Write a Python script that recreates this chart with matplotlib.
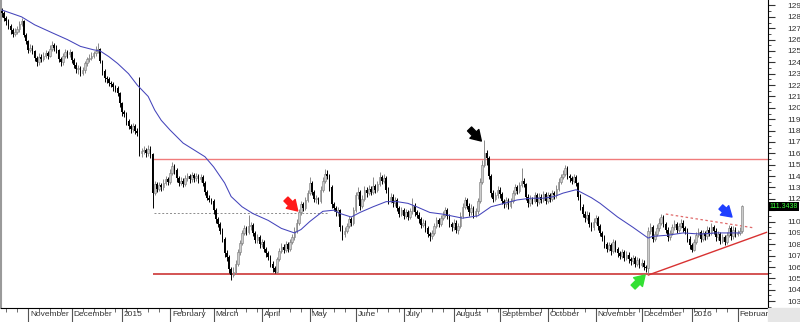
import numpy as np
import pandas as pd
import matplotlib
matplotlib.use('Agg')
import matplotlib.pyplot as plt
from matplotlib.transforms import blended_transform_factory
from matplotlib.patches import Rectangle

plt.rcParams['font.family'] = ['Liberation Sans', 'DejaVu Sans']

# daily candles, trading days from 16 Oct 2014
dates = pd.bdate_range('2014-10-16', periods=340)
first_open = 128.5

closes = [
    128.3, 127.9, 127.6, 127.2, 126.8, 126.5, 126.7, 126.9, 127.4, 127.6,
    126.4, 125.9, 125.1, 125.3, 125.0, 124.4, 124.0, 124.5, 124.3, 124.6,
    124.8, 124.6, 125.2, 125.5, 125.3, 125.1, 124.3, 124.0, 124.6, 124.9,
    124.7, 124.9, 124.2, 123.8, 123.4, 123.5, 123.1, 123.3, 123.9, 124.3,
    124.4, 124.6, 124.8, 125.0, 125.2, 124.1, 123.2, 122.6, 122.5, 122.2,
    122.1, 121.8, 121.7, 121.3, 120.4, 119.6, 119.5, 118.8, 118.4, 118.1,
    118.4, 118.0, 117.8, 116.0, 116.2, 116.3, 116.0, 116.4, 115.9, 112.5,
    113.3, 112.9, 113.2, 113.0, 113.4, 113.7, 113.5, 114.3, 114.9, 114.5,
    113.8, 113.4, 113.6, 113.3, 113.8, 114.0, 113.7, 114.1, 113.8, 114.0,
    113.7, 113.9, 113.4, 112.6, 112.1, 111.9, 111.8, 111.0, 110.2, 109.8,
    109.2, 108.5, 107.2, 106.9, 105.8, 105.3, 105.6, 106.3, 107.3, 108.1,
    109.0, 109.4, 109.1, 109.6, 109.7, 109.0, 108.4, 108.6, 108.0, 108.2,
    107.6, 107.2, 106.9, 106.3, 105.9, 105.6, 106.7, 107.4, 107.8, 107.5,
    108.0, 107.6, 108.2, 108.6, 109.2, 109.9, 110.8, 111.5, 111.2, 111.9,
    112.5, 113.4, 112.6, 112.0, 112.0, 111.8, 112.8, 113.6, 114.2, 114.0,
    113.0, 111.5, 111.2, 110.8, 111.0, 109.5, 108.9, 109.2, 109.6, 110.2,
    109.9, 111.0, 112.3, 112.6, 111.4, 112.0, 112.8, 112.5, 112.9, 112.6,
    113.1, 112.8, 113.3, 113.9, 113.6, 113.8, 112.8, 111.8, 112.2, 111.6,
    111.9, 111.2, 110.7, 111.0, 110.5, 110.8, 110.4, 110.9, 111.4, 110.8,
    110.6, 110.2, 109.7, 109.9, 109.4, 108.9, 108.7, 109.0, 109.6, 110.1,
    109.8, 110.3, 110.6, 111.0, 110.5, 109.8, 109.5, 109.9, 109.3, 109.6,
    110.5, 111.3, 111.9, 111.4, 110.8, 111.2, 110.6, 110.9, 111.8, 113.5,
    115.0, 116.0, 115.6, 114.0, 112.5, 112.0, 112.3, 112.8, 112.4, 111.8,
    111.5, 111.9, 111.4, 111.8, 112.5, 113.0, 112.7, 113.2, 113.6, 113.3,
    112.2, 111.6, 112.0, 111.8, 112.3, 111.7, 112.2, 111.9, 112.4, 111.8,
    112.3, 112.0, 112.5, 112.3, 112.9, 113.5, 113.9, 114.2, 114.7, 114.0,
    113.8, 113.6, 113.9, 113.4, 112.2, 111.3, 110.7, 110.3, 110.6, 109.8,
    109.5, 110.0, 110.3, 109.6, 109.0, 108.6, 108.0, 107.6, 107.9, 107.4,
    108.2, 107.6, 107.2, 107.0, 107.3, 106.8, 107.1, 106.7, 106.5, 106.8,
    106.3, 106.6, 106.2, 106.4, 106.0, 105.9, 109.2, 109.5, 108.5, 108.9,
    109.4, 109.9, 110.4, 109.8, 109.3, 108.6, 109.0, 109.5, 109.8, 109.3,
    109.6, 109.9, 109.4, 109.2, 108.5, 107.9, 107.5, 108.2, 108.8, 109.1,
    108.5, 109.0, 108.7, 109.3, 109.0, 109.5, 109.2, 108.6, 108.9, 108.3,
    108.6, 108.2, 108.8, 109.4, 108.7, 109.3, 108.9, 109.0, 109.2, 111.3438,
]
highs = [
    128.8, 128.5, 128.1, 127.8, 127.4, 127.0, 127.0, 127.2, 127.6, 127.9,
    127.7, 126.6, 126.0, 125.6, 125.5, 125.1, 124.6, 124.8, 124.7, 124.9,
    125.1, 125.0, 125.5, 125.9, 125.7, 125.5, 125.2, 124.5, 124.8, 125.2,
    125.1, 125.2, 125.0, 124.4, 124.0, 123.8, 123.7, 123.6, 124.1, 124.5,
    124.7, 124.9, 125.0, 125.4, 125.7, 125.3, 124.2, 123.4, 122.8, 122.7,
    122.4, 122.3, 122.0, 121.9, 121.4, 120.5, 119.8, 119.6, 119.0, 118.6,
    118.7, 118.6, 118.2, 122.7, 116.5, 116.6, 116.5, 116.7, 116.6, 116.0,
    113.6, 113.5, 113.5, 113.4, 113.7, 114.0, 113.9, 114.6, 115.2, 115.1,
    114.7, 114.0, 113.9, 113.8, 114.1, 114.3, 114.2, 114.4, 114.3, 114.3,
    114.2, 114.2, 114.1, 113.6, 112.8, 112.3, 112.1, 112.0, 111.2, 110.4,
    110.0, 109.4, 108.6, 107.5, 107.1, 106.0, 106.0, 106.6, 107.6, 108.4,
    109.3, 109.7, 109.6, 110.6, 110.0, 109.9, 109.2, 108.9, 108.8, 108.5,
    108.4, 107.8, 107.4, 107.1, 106.5, 106.1, 106.9, 107.7, 108.1, 108.0,
    108.3, 108.2, 108.5, 108.9, 109.5, 110.2, 111.1, 111.8, 111.7, 112.2,
    112.8, 113.9, 113.6, 112.8, 112.3, 112.2, 113.1, 113.9, 114.6, 114.5,
    114.2, 113.2, 111.7, 111.4, 111.3, 111.1, 109.7, 109.5, 109.9, 110.5,
    110.4, 111.3, 112.6, 113.0, 112.8, 112.3, 113.1, 113.0, 113.2, 113.1,
    113.9, 113.3, 113.6, 114.4, 114.1, 114.2, 114.0, 113.0, 112.5, 112.4,
    112.2, 112.1, 111.4, 111.3, 111.2, 111.1, 111.0, 111.2, 112.1, 111.6,
    111.0, 110.8, 110.4, 110.2, 110.1, 109.6, 109.1, 109.3, 109.9, 110.4,
    110.3, 110.6, 110.9, 111.3, 111.2, 110.7, 110.0, 110.2, 110.1, 109.9,
    110.8, 111.6, 112.2, 112.1, 111.6, 111.5, 111.4, 111.2, 112.1, 113.8,
    115.4, 117.2, 116.3, 115.8, 114.2, 112.8, 112.6, 113.1, 113.0, 112.6,
    112.0, 112.2, 112.1, 112.1, 112.8, 113.3, 113.2, 113.5, 114.7, 113.8,
    113.4, 112.4, 112.3, 112.2, 112.6, 112.5, 112.5, 112.4, 112.7, 112.6,
    112.6, 112.5, 112.8, 112.7, 113.2, 113.8, 114.2, 114.5, 115.0, 114.9,
    114.2, 114.0, 114.2, 114.1, 113.5, 112.4, 111.5, 110.9, 110.9, 110.8,
    110.0, 110.3, 110.6, 110.5, 109.8, 109.2, 108.8, 108.2, 108.2, 108.1,
    108.5, 108.4, 107.8, 107.4, 107.6, 107.5, 107.4, 107.3, 106.9, 107.1,
    107.0, 106.9, 106.8, 106.7, 106.6, 106.2, 109.5, 109.9, 109.7, 109.2,
    109.8, 110.3, 110.7, 110.6, 110.0, 109.5, 109.3, 109.8, 110.1, 110.0,
    109.9, 110.2, 110.1, 109.6, 109.4, 108.7, 108.1, 108.5, 109.1, 109.4,
    109.3, 109.3, 109.2, 109.6, 109.5, 109.84, 109.7, 109.4, 109.2, 109.1,
    108.9, 108.8, 109.1, 109.7, 109.6, 109.6, 109.5, 109.3, 109.5, 111.45,
]
lows = [
    128.0, 127.6, 127.3, 126.9, 126.5, 126.2, 126.3, 126.5, 126.7, 127.2,
    126.2, 125.6, 124.8, 124.9, 124.7, 124.1, 123.7, 123.8, 124.0, 124.1,
    124.4, 124.3, 124.5, 125.0, 125.0, 124.8, 124.0, 123.7, 123.8, 124.4,
    124.4, 124.5, 123.9, 123.5, 123.1, 123.0, 122.8, 122.9, 123.1, 123.7,
    124.0, 124.2, 124.4, 124.6, 124.8, 123.9, 122.9, 122.3, 122.2, 121.9,
    121.8, 121.5, 121.4, 121.0, 120.1, 119.3, 119.2, 118.5, 118.1, 117.8,
    117.9, 117.7, 117.5, 115.8, 115.7, 115.9, 115.7, 115.8, 115.6, 111.2,
    112.3, 112.6, 112.7, 112.7, 112.8, 113.2, 113.2, 113.3, 114.1, 114.2,
    113.5, 113.1, 113.2, 113.0, 113.1, 113.6, 113.4, 113.5, 113.5, 113.6,
    113.4, 113.5, 113.1, 112.3, 111.9, 111.7, 111.5, 110.7, 109.9, 109.5,
    108.9, 108.2, 106.9, 106.5, 105.5, 104.9, 105.1, 105.4, 106.1, 107.1,
    107.9, 108.8, 108.8, 108.9, 109.3, 108.7, 108.1, 108.1, 107.7, 107.8,
    107.3, 106.9, 106.6, 106.0, 105.6, 105.45, 105.5, 106.5, 107.2, 107.2,
    107.3, 107.3, 107.4, 108.0, 108.4, 109.0, 109.7, 110.6, 110.9, 111.0,
    111.7, 112.3, 112.3, 111.7, 111.6, 111.5, 111.6, 112.6, 113.4, 113.7,
    112.7, 111.2, 110.9, 110.5, 110.5, 109.2, 108.4, 108.6, 109.0, 109.4,
    109.6, 109.7, 110.8, 112.0, 111.0, 111.2, 111.8, 112.2, 112.3, 112.3,
    112.4, 112.5, 112.6, 113.1, 113.3, 113.4, 112.5, 111.5, 111.6, 111.3,
    111.4, 110.9, 110.4, 110.5, 110.2, 110.3, 110.1, 110.2, 110.7, 110.5,
    110.3, 109.9, 109.4, 109.5, 109.1, 108.6, 108.3, 108.5, 108.8, 109.4,
    109.5, 109.6, 110.1, 110.4, 110.2, 109.5, 109.2, 109.3, 109.0, 108.95,
    109.4, 110.3, 111.1, 111.1, 110.5, 110.6, 110.3, 110.4, 110.7, 111.6,
    113.3, 114.8, 115.0, 113.7, 112.2, 111.7, 111.8, 112.1, 112.1, 111.5,
    111.2, 111.3, 111.1, 111.2, 111.6, 112.3, 112.4, 112.5, 113.0, 113.0,
    111.9, 111.3, 111.4, 111.5, 111.6, 111.4, 111.5, 111.6, 111.7, 111.5,
    111.6, 111.7, 111.8, 112.0, 112.1, 112.7, 113.3, 113.7, 114.0, 113.7,
    113.5, 113.3, 113.4, 113.1, 111.9, 111.0, 110.4, 110.0, 110.1, 109.5,
    109.2, 109.3, 109.8, 109.3, 108.7, 108.3, 107.7, 107.3, 107.4, 107.1,
    107.2, 107.3, 106.9, 106.7, 106.8, 106.5, 106.6, 106.4, 106.2, 106.3,
    106.0, 106.1, 105.9, 106.0, 105.7, 105.6, 105.35, 108.9, 108.2, 108.3,
    108.7, 109.2, 109.7, 109.5, 109.0, 108.3, 108.4, 108.8, 109.3, 109.0,
    109.1, 109.4, 109.1, 108.9, 108.2, 107.6, 107.35, 107.4, 108.0, 108.6,
    108.2, 108.3, 108.4, 108.5, 108.7, 108.8, 108.9, 108.3, 108.4, 108.0,
    108.1, 107.9, 108.0, 108.6, 108.4, 108.5, 108.6, 108.7, 108.8, 109.0,
]

# moving average, read at points along the blue line
ma_idx = [0, 9, 15, 23, 30, 36, 42, 45, 49, 53, 58, 62, 67, 70, 73, 77, 83, 93, 97, 102,
          105, 110, 115, 122, 128, 134, 137, 141, 147, 152, 155, 160, 164, 170, 176, 181,
          186, 190, 196, 202, 211, 218, 224, 230, 236, 242, 248, 253, 257, 263, 270, 274,
          282, 289, 296, 298, 305, 312, 320, 327, 338]
ma_vals = [128.6, 128.0, 127.3, 126.6, 126.0, 125.4, 125.1, 125.0, 124.5, 123.9,
           123.0, 122.0, 121.0, 119.8, 118.9, 118.05, 116.9, 115.7, 114.8, 113.4,
           112.2, 111.3, 110.7, 110.1, 109.4, 109.0, 109.3, 110.0, 110.9, 111.0,
           110.7, 110.4, 110.8, 111.3, 111.75, 111.75, 111.6, 111.3, 110.8, 110.65,
           110.3, 110.5, 111.3, 111.6, 111.9, 112.05, 112.05, 112.2, 112.5, 112.8,
           112.1, 111.6, 110.4, 109.5, 108.55, 108.7, 108.8, 109.0, 108.9, 109.0, 109.0]

month_labels = ['November', 'December', '2015', 'February', 'March', 'April', 'May', 'June',
                'July', 'August', 'September', 'October', 'November', 'December', '2016',
                'February']
yticks = list(range(103, 130))
last_price = 111.3438

# drawn support/resistance levels (index, price)
resistance = 115.5
support = 105.35
breakout_level = 110.72
tri_top = ([304.1, 343.9], [110.66, 109.46])
tri_bottom = ([296.1, 350.2], [105.30, 109.05])

fig = plt.figure(figsize=(8, 3.22), dpi=100)
ax = fig.add_axes([0.001, 14 / 322, 767 / 800, 1 - 14 / 322])

o = np.array([first_open] + closes[:-1])
c = np.array(closes)
h = np.maximum(np.array(highs), np.maximum(o, c))
l = np.minimum(np.array(lows), np.minimum(o, c))
x = np.arange(len(c))
up = c >= o
body_lo = np.minimum(o, c)
body_h = np.maximum(np.abs(c - o), 0.06)

ax.vlines(x[up], l[up], h[up], color='#8a8a8a', lw=0.7, zorder=2)
ax.vlines(x[~up], l[~up], h[~up], color='black', lw=0.7, zorder=2)
ax.bar(x[up], body_h[up], bottom=body_lo[up], width=0.75, color='#cccccc',
       edgecolor='#7a7a7a', linewidth=0.4, zorder=3)
ax.bar(x[~up], body_h[~up], bottom=body_lo[~up], width=0.75, color='black',
       linewidth=0, zorder=3)

ax.plot(ma_idx, ma_vals, color='#4444bb', lw=0.75, zorder=4)

# levels
ax.hlines(resistance, 69.3, 352, color='#f07b7b', lw=1.0, zorder=1)
ax.hlines(support, 69.3, 352, color='#c82424', lw=1.1, zorder=1)
ax.hlines(breakout_level, 69.5, 149.3, color='#8c8c8c', lw=0.7,
          linestyles=(0, (2, 2)), zorder=1)
ax.plot(*tri_top, color='#e06a6a', lw=0.9, ls=(0, (2, 2)), zorder=1)
ax.plot(*tri_bottom, color='#d83232', lw=1.0, zorder=1)

# arrows (tail -> tip)
arrows = [
    ((130.1, 111.98), (135.5, 110.93), '#ff1a1a'),
    ((214.2, 118.14), (219.6, 117.08), 'black'),
    ((329.3, 111.28), (334.4, 110.40), '#1f3fff'),
    ((289.1, 104.24), (294.6, 105.30), '#33e033'),
]
for tail, tip, col in arrows:
    ax.annotate('', xy=tip, xytext=tail,
                arrowprops=dict(arrowstyle='simple,head_length=0.8,head_width=1.0,tail_width=0.45',
                                color=col, mutation_scale=9, shrinkA=0, shrinkB=0),
                zorder=6)

ax.set_xlim(-0.5, 350.8)
ax.set_ylim(102.4, 129.48)

# y axis on right; the 111 label sits under the price tag
ax.yaxis.tick_right()
ax.set_yticks(yticks)
ax.set_yticklabels(['' if v == 111 else str(v) for v in yticks])
ax.set_yticks(np.arange(102.5, 129.5, 1.0), minor=True)
ax.tick_params(axis='y', which='major', length=5, width=0.8, color='#333333',
               labelsize=6, labelcolor='#333333', pad=9)
ax.tick_params(axis='y', which='minor', length=2.5, width=0.6, color='#333333')

# x axis: month separators and weekly ticks
month_starts = [i for i in range(1, len(dates)) if dates[i].month != dates[i - 1].month]
mondays = [i for i in range(len(dates)) if dates[i].weekday() == 0]
ax.set_xticks(month_starts)
ax.set_xticks(mondays, minor=True)
ax.set_xticklabels([])
ax.tick_params(axis='x', which='major', length=14, width=0.8, color='#555555')
ax.tick_params(axis='x', which='minor', length=3, width=0.6, color='#555555')
for idx, lab in zip(month_starts, month_labels):
    ax.annotate(lab, xy=(idx, 0), xycoords=('data', 'axes fraction'),
                xytext=(1.5, -2.2), textcoords='offset points', ha='left', va='top',
                fontsize=6, color='#333333', annotation_clip=False)

ax.spines['top'].set_visible(False)
ax.spines['left'].set_color('#9a9a9a')
ax.spines['left'].set_linewidth(1.5)
ax.spines['right'].set_color('black')
ax.spines['right'].set_linewidth(0.8)
ax.spines['bottom'].set_linewidth(0.8)

# last price tag
tr = blended_transform_factory(ax.transAxes, ax.transData)
ax.text(1.0025, last_price, '111.3438', transform=tr, ha='left', va='center', fontsize=5.0,
        color='#3cff3c', bbox=dict(boxstyle='square,pad=0.12', fc='black', ec='none'),
        clip_on=False, zorder=7)

fig.patches.append(Rectangle((768 / 800, 0), 32 / 800, 14 / 322, transform=fig.transFigure,
                             color='#e6e6e6', zorder=0))

fig.savefig('out.png', dpi=100)
